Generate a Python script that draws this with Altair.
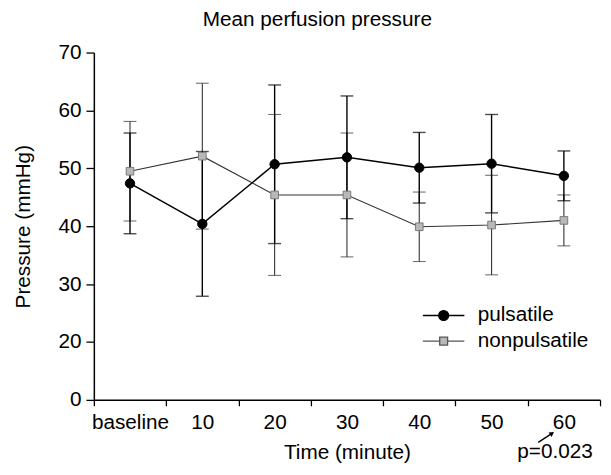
import json
import altair as alt
import pandas as pd

# ---- data ----
categories = ["baseline", "10", "20", "30", "40", "50", "60"]
groups = ["pulsatile", "nonpulsatile"]
pulsatile_mean = [47.4, 40.4, 50.7, 51.9, 50.1, 50.8, 48.7]
pulsatile_sd = [8.7, 12.5, 13.7, 10.6, 6.1, 8.5, 4.3]
nonpulsatile_mean = [49.5, 52.1, 45.4, 45.4, 39.9, 40.2, 41.0]
nonpulsatile_sd = [8.6, 12.6, 13.9, 10.7, 6.0, 8.6, 4.4]
y_ticks = [10, 20, 30, 40, 50, 60, 70]
annotation_text = "p=0.023"
annotation_category = "60"

rows = []
for g, means, sds in [(groups[0], pulsatile_mean, pulsatile_sd),
                      (groups[1], nonpulsatile_mean, nonpulsatile_sd)]:
    for i, (c, m, s) in enumerate(zip(categories, means, sds)):
        rows.append({"idx": i, "cat": c, "group": g, "mean": m,
                     "lo": m - s, "hi": m + s})
df = pd.DataFrame(rows)
legend_df = pd.DataFrame({"idx": [0, 0], "group": groups, "mean": [0, 0]})
ann_df = pd.DataFrame({"idx": [categories.index(annotation_category)],
                       "text": [annotation_text]})

W, H = 513, 352
FONT = "Liberation Sans"
FS = 21
n = len(categories)

x_label_expr = json.dumps(categories).replace('"', "'") + "[round(datum.value + 0.5)] || ''"

x_enc = alt.X(
    "idx:Q",
    scale=alt.Scale(domain=[-0.5, n - 0.5], nice=False, zero=False),
    axis=alt.Axis(
        values=[i - 0.5 for i in range(n + 1)],
        labelExpr=x_label_expr,
        labelOffset=W / n / 2,
        labelFlush=False,
        labelOverlap=False,
        grid=False,
        tickSize=6,
        labelPadding=6,
        title="Time (minute)",
        titlePadding=9,
    ),
)
y_enc = alt.Y(
    "mean:Q",
    scale=alt.Scale(domain=[y_ticks[0], y_ticks[-1]], nice=False, zero=False),
    axis=alt.Axis(
        values=y_ticks,
        labelExpr="datum.value == 10 ? '0' : datum.label",
        grid=False,
        tickSize=8,
        labelPadding=5,
        title="Pressure (mmHg)",
        titlePadding=25,
    ),
)

style = {
    "pulsatile": dict(color="black", line=1.5, bar=1.4, shape="circle",
                      size=90, fill="black", stroke="black"),
    "nonpulsatile": dict(color="#333333", line=1.1, bar=1.1, shape="square",
                         size=60, fill="#b8b8b8", stroke="#7a7a7a"),
}

layers = []
for g in ["nonpulsatile", "pulsatile"]:
    st = style[g]
    base = alt.Chart(df).transform_filter(alt.datum.group == g)
    layers.append(base.mark_rule(color=st["color"], strokeWidth=st["bar"]).encode(
        x=x_enc, y=alt.Y("lo:Q"), y2="hi:Q"))
    for col in ["lo", "hi"]:
        layers.append(base.mark_tick(orient="horizontal", size=13, thickness=st["bar"],
                                     color=st["color"]).encode(x=x_enc, y=alt.Y(f"{col}:Q")))
for g in ["nonpulsatile", "pulsatile"]:
    st = style[g]
    base = alt.Chart(df).transform_filter(alt.datum.group == g)
    layers.append(base.mark_line(color=st["color"], strokeWidth=st["line"]).encode(
        x=x_enc, y=y_enc))
for g in ["nonpulsatile", "pulsatile"]:
    st = style[g]
    base = alt.Chart(df).transform_filter(alt.datum.group == g)
    layers.append(base.mark_point(shape=st["shape"], size=st["size"], filled=True,
                                  fill=st["fill"], stroke=st["stroke"], strokeWidth=1,
                                  opacity=1).encode(x=x_enc, y=y_enc))

# legend (symbols: line stub + marker)
path_circle = "M-4.2,0H-1M1,0H4.2M-1,0A1,1 0 1,0 1,0A1,1 0 1,0 -1,0Z"
path_square = "M-4.2,0H-0.8M0.8,0H4.2M-0.8,-0.8H0.8V0.8H-0.8Z"
leg = alt.Legend(title=None, orient="none", legendX=344, legendY=256,
                 symbolSize=100, labelOffset=24, rowPadding=4, padding=0,
                 labelFontSize=FS, labelFont=FONT, labelColor="black",
                 symbolStrokeWidth=1.3, symbolOpacity=1)
layers.append(alt.Chart(legend_df).mark_point(filled=True, clip=True).encode(
    x=x_enc, y=y_enc,
    shape=alt.Shape("group:N", scale=alt.Scale(domain=groups, range=[path_circle, path_square]), legend=leg),
    fill=alt.Fill("group:N", scale=alt.Scale(domain=groups, range=["black", "#b8b8b8"]), legend=leg),
    stroke=alt.Stroke("group:N", scale=alt.Scale(domain=groups, range=["black", "#555555"]), legend=leg),
))

# annotation under the last category
layers.append(alt.Chart(ann_df).mark_text(dx=-9, baseline="alphabetic", align="center",
                                          fontSize=FS, font=FONT, color="black").encode(
    x=x_enc, y=alt.value(H + 59), text="text:N"))
layers.append(alt.Chart(ann_df).mark_rule(xOffset=-26, x2Offset=-12, strokeWidth=1.4,
                                          color="black").encode(
    x=x_enc, x2="idx:Q", y=alt.value(H + 43), y2=alt.value(H + 34)))
layers.append(alt.Chart(ann_df).mark_point(shape="triangle-up", filled=True, size=30,
                                           angle=56, xOffset=-12, color="black",
                                           opacity=1).encode(
    x=x_enc, y=alt.value(H + 34)))

chart = alt.layer(*layers).properties(
    width=W, height=H,
    title=alt.TitleParams("Mean perfusion pressure", fontSize=FS, font=FONT,
                          fontWeight="normal", color="black", dx=-30, dy=-8),
    padding={"left": 87, "top": 42, "right": 3, "bottom": 73},
    autosize=alt.AutoSizeParams(type="none"),
).configure_view(stroke=None).configure_axis(
    labelFont=FONT, titleFont=FONT, labelFontSize=FS, titleFontSize=FS,
    labelColor="black", titleColor="black", titleFontWeight="normal",
    domainColor="black", tickColor="black", domainWidth=1.5, tickWidth=1.3,
)

chart.save("out.html", embed_options={"renderer": "svg", "actions": False})
